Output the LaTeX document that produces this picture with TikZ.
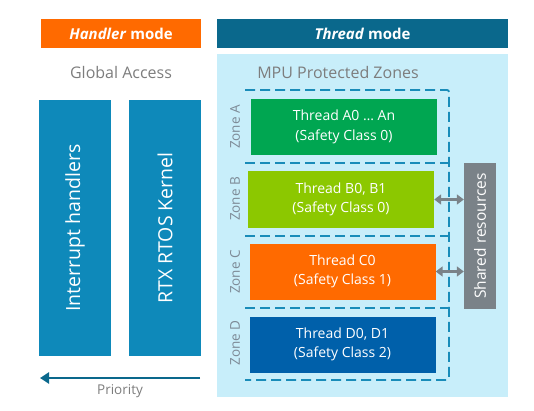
\documentclass[tikz,border=0pt]{standalone}
\usepackage{fontspec}
\setmainfont{Open Sans}
\usetikzlibrary{positioning}
\usetikzlibrary{arrows.meta}

\definecolor{hdlorange}{RGB}{255,106,0}
\definecolor{thrteal}{RGB}{10,104,140}
\definecolor{zonebg}{RGB}{200,238,250}
\definecolor{kernblue}{RGB}{14,137,186}
\definecolor{zgreen}{RGB}{0,166,81}
\definecolor{zlime}{RGB}{140,200,0}
\definecolor{zblue}{RGB}{0,96,170}
\definecolor{shgray}{RGB}{122,130,136}
\definecolor{dashblue}{RGB}{25,140,185}
\definecolor{txtgray}{RGB}{125,125,125}
\definecolor{zgray}{RGB}{125,138,150}

\tikzset{
  modebar/.style={rectangle, inner sep=0pt, text=white, minimum height=29pt,
                  font=\bfseries\fontsize{15}{18}\selectfont},
  kernbox/.style={rectangle, fill=kernblue, inner sep=0pt, minimum width=72pt,
                  minimum height=256pt},
  kerntext/.style={rotate=90, text=white, font=\fontsize{19.5}{24}\selectfont},
  threadbox/.style={rectangle, inner sep=0pt, text=white, minimum width=186pt,
                  minimum height=56pt, align=center, font=\fontsize{14}{19.5}\selectfont},
  zonelabel/.style={rotate=90, text=zgray, font=\fontsize{13.5}{16}\selectfont},
  zoneline/.style={draw=dashblue, line width=1.8pt, dash pattern=on 10pt off 5pt},
  graytext/.style={text=txtgray, font=\fontsize{16}{19}\selectfont},
  sharearrow/.style={draw=shgray, line width=3pt,
                  {Triangle[width=10pt,length=7pt]}-{Triangle[width=10pt,length=7pt]}}
}

\begin{document}
\begin{tikzpicture}[x=1pt, y=-1pt]
    \useasboundingbox (0,0) rectangle (534,411);

    % mode headers
    \node[modebar, fill=hdlorange, minimum width=160pt] (hdl) at (121,33.5) {\textit{Handler} mode};
    \node[modebar, fill=thrteal, minimum width=291pt] (thr) at (362.5,33.5) {\textit{Thread} mode};

    % thread mode area
    \node[rectangle, fill=zonebg, inner sep=0pt, minimum width=291pt, minimum height=343pt] (bg) at (362.5,225.5) {};

    \node[graytext] (glob) at (121,73) {Global Access};
    \node[graytext] (mpu) at (338,73) {MPU Protected Zones};

    % handler mode blocks
    \node[kernbox] (irq) at (75,228) {};
    \node[kerntext] at (irq.center) {Interrupt handlers};
    \node[kernbox] (rtx) at (165,228) {};
    \node[kerntext] at (rtx.center) {RTX RTOS Kernel};

    % priority arrow
    \coordinate (prioR) at (200,378);
    \coordinate (prioL) at (40,378);
    \draw[thrteal, line width=2.5pt, -{Triangle[width=11pt,length=9pt]}] (prioR) -- (prioL);
    \node[text=txtgray, font=\fontsize{13.5}{16}\selectfont] (prio) at (120,391) {Priority};

    % zone borders
    \draw[zoneline, rounded corners=2pt] (245,90) -| (449,380) -- (245,380);
    \foreach \y in {163,236,308}
        \draw[zoneline] (245,\y) -- (449,\y);

    % zones
    \node[threadbox, fill=zgreen] (zA) at (344,127) {Thread A0 \dots\ An\\(Safety Class 0)};
    \node[threadbox, fill=zlime] (zB) at (341,199.5) {Thread B0, B1\\(Safety Class 0)};
    \node[threadbox, fill=hdlorange] (zC) at (342.5,271.5) {Thread C0\\(Safety Class 1)};
    \node[threadbox, fill=zblue] (zD) at (342.5,344.5) {Thread D0, D1\\(Safety Class 2)};

    \node[zonelabel] (lA) at (235,127) {Zone A};
    \node[zonelabel] (lB) at (235,199) {Zone B};
    \node[zonelabel] (lC) at (235,272) {Zone C};
    \node[zonelabel] (lD) at (235,343) {Zone D};

    % shared resources
    \node[rectangle, fill=shgray, inner sep=0pt, minimum width=32pt, minimum height=146pt] (shr) at (480,236) {};
    \node[rotate=90, text=white, font=\fontsize{15.5}{18}\selectfont] at (shr.center) {Shared resources};

    \draw[sharearrow] (zB.east) -- (zB.east -| shr.west);
    \draw[sharearrow] (zC.east) -- (zC.east -| shr.west);
\end{tikzpicture}
\end{document}
